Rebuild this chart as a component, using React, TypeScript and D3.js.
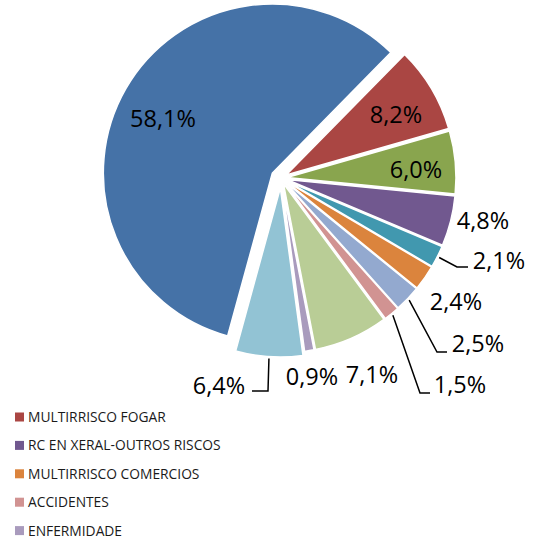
import React from "react";
import * as d3 from "d3";

const values = [58.1, 8.2, 6.0, 4.8, 2.1, 2.4, 2.5, 1.5, 7.1, 0.9, 6.4];
const sliceColors = ["#4572A7", "#AA4643", "#89A54E", "#71588F", "#4198AF", "#DB843D", "#93A9CF", "#D19392", "#B9CD96", "#A99BBD", "#92C3D4"];
const legendNames = ["MULTIRRISCO FOGAR", "RC EN XERAL-OUTROS RISCOS", "MULTIRRISCO COMERCIOS", "ACCIDENTES", "ENFERMIDADE"];
const legendColors = ["#AA4643", "#71588F", "#DB843D", "#D19392", "#A99BBD"];

// layout (not data)
const explode = [10, 6, 6, 6, 6, 6, 6, 6, 6, 6, 10];
const labelPos: [number, number][] = [
  [163, 127], [396, 123], [416, 178], [483, 229], [499, 269], [456, 310],
  [478, 352], [460, 393], [372, 383], [312, 385], [219, 394],
];
const leaders: ([number, number][] | null)[] = [
  null, null, null, null,
  [[457, 267], [468, 267]],
  null,
  [[437, 352], [447, 352]],
  [[420, 393], [430, 393]],
  null, null,
  [[268, 391], [252, 391]],
];

const W = 534, H = 540;
const CX = 281, CY = 178, R = 169;
const FONT = "'Open Sans', 'Liberation Sans', sans-serif";

export default function App() {
  const total = d3.sum(values);
  const a0 = (44.5 * Math.PI) / 180 - (values[0] / total) * 2 * Math.PI;
  const pie = d3.pie<number>().sort(null).value((d) => d).startAngle(a0).endAngle(a0 + 2 * Math.PI);
  const arcs = pie(values);
  const arcGen = d3.arc<d3.PieArcDatum<number>>().innerRadius(0).outerRadius(R);
  const fmt = (v: number) => v.toFixed(1).replace(".", ",") + "%";

  return (
    <svg width={W} height={H} style={{ position: "absolute", left: 0, top: 0, background: "#fff" }}>
      {arcs.map((a, i) => {
        const mid = (a.startAngle + a.endAngle) / 2;
        const dx = Math.sin(mid) * explode[i];
        const dy = -Math.cos(mid) * explode[i];
        return (
          <path key={i} d={arcGen(a) || ""} transform={`translate(${CX + dx},${CY + dy})`} fill={sliceColors[i]} stroke="#fff" strokeWidth={1.5} strokeLinejoin="miter" />
        );
      })}
      {arcs.map((a, i) => {
        const lp = leaders[i];
        if (!lp) return null;
        const mid = (a.startAngle + a.endAngle) / 2;
        const rr = R + explode[i] + 2;
        const sx = CX + Math.sin(mid) * rr;
        const sy = CY - Math.cos(mid) * rr;
        const pts: [number, number][] = [[sx, sy], ...lp];
        return <path key={"l" + i} d={d3.line()(pts) || ""} fill="none" stroke="#000" strokeWidth={1.5} />;
      })}
      {values.map((v, i) => (
        <text key={"t" + i} x={labelPos[i][0]} y={labelPos[i][1]} textAnchor="middle" fontFamily={FONT} fontSize={23.5} fill="#000">
          {fmt(v)}
        </text>
      ))}
      {legendNames.map((n, i) => {
        const cy = 417 + i * 28.4;
        return (
          <g key={"lg" + i}>
            <rect x={15} y={cy - 4.5} width={9} height={9} fill={legendColors[i]} />
            <text x={28} y={cy + 5} fontFamily={FONT} fontSize={13.8} fill="#1a1a1a">{n}</text>
          </g>
        );
      })}
    </svg>
  );
}
